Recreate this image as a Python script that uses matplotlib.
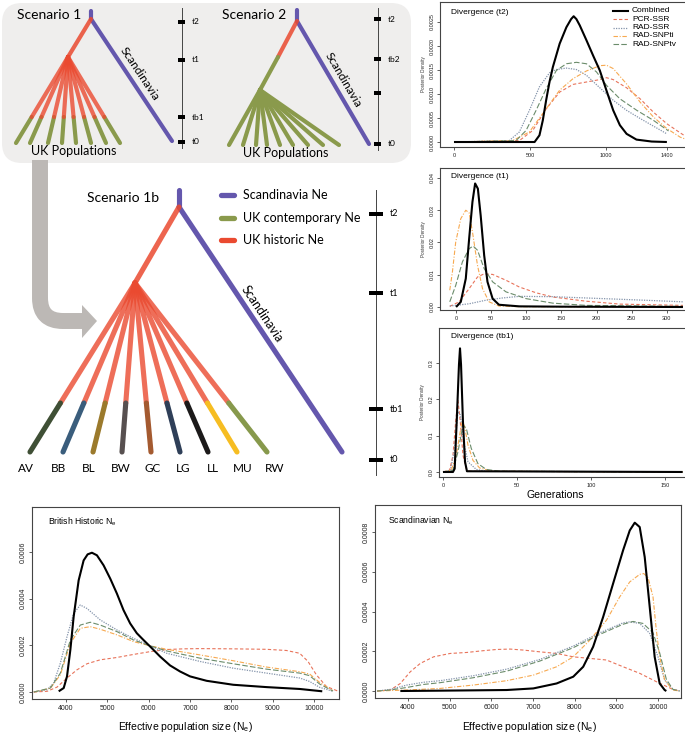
import numpy as np
import matplotlib.pyplot as plt
from matplotlib.patches import FancyBboxPatch, Polygon, PathPatch, Rectangle
from matplotlib.path import Path

W, H = 685, 736
fig = plt.figure(figsize=(W / 100, H / 100), dpi=100)

# ---------------- data ----------------
series_names = ['PCR-SSR', 'RAD-SSR', 'RAD-SNPti', 'RAD-SNPtv', 'Combined']

# Divergence (t2)
t2_comb_x = [0, 530, 562, 584, 606, 628, 650, 695, 739, 770, 787, 805, 827, 871, 915, 959, 1003, 1047, 1091, 1135, 1200, 1300, 1400]
t2_comb_y = [0, 0, 0.00014, 0.00045, 0.00087, 0.00125, 0.00156, 0.00205, 0.00239, 0.00256, 0.00262, 0.00256, 0.00243,
             0.00212, 0.00180, 0.00149, 0.00107, 0.00066, 0.00035, 0.00017, 0.00005, 0.00001, 0]
t2_pcr_x = [0, 430, 518, 606, 695, 783, 871, 959, 1003, 1047, 1135, 1224, 1312, 1400, 1488, 1532]
t2_pcr_y = [0, 0.00003, 0.00024, 0.00069, 0.00104, 0.00120, 0.00125, 0.00130, 0.00134, 0.00130, 0.00113, 0.00090,
            0.00062, 0.00038, 0.00019, 0.0001]
t2_radssr_x = [0, 364, 430, 496, 562, 628, 673, 739, 805, 871, 959, 1047, 1135, 1224, 1312, 1400]
t2_radssr_y = [0, 0.00003, 0.00021, 0.00066, 0.00115, 0.00144, 0.00151, 0.00154, 0.00151, 0.00139, 0.00113, 0.00087,
               0.00066, 0.00049, 0.00033, 0.00017]
t2_ti_x = [0, 386, 496, 606, 695, 783, 871, 959, 1003, 1047, 1135, 1224, 1312, 1400, 1488, 1532]
t2_ti_y = [0, 0.00003, 0.00021, 0.00069, 0.00108, 0.00132, 0.00148, 0.00159, 0.00160, 0.00153, 0.00121, 0.00083,
           0.00052, 0.00028, 0.0001, 0.00005]
t2_tv_x = [0, 408, 474, 540, 606, 673, 739, 805, 871, 937, 1003, 1091, 1202, 1312, 1411]
t2_tv_y = [0, 0.00003, 0.00024, 0.00066, 0.00111, 0.00149, 0.00163, 0.00166, 0.00163, 0.00146, 0.00118, 0.00090,
           0.00066, 0.00045, 0.00023]

# Divergence (t1)
t1_comb_x = [0, 6.7, 13.8, 18.6, 23.3, 27.1, 31, 35, 40, 44.7, 52, 61, 90, 150, 323]
t1_comb_y = [0, 0.0016, 0.0088, 0.0212, 0.0326, 0.0383, 0.0367, 0.0284, 0.016, 0.0078, 0.0026, 0.0007, 0.0002, 0.0001, 0]
t1_pcr_x = [-9, 4.3, 18.6, 30.5, 40, 52, 71, 90, 114, 137.6, 185, 233, 323]
t1_pcr_y = [0.0002, 0.0016, 0.0057, 0.0093, 0.0103, 0.0101, 0.0083, 0.0062, 0.0044, 0.0031, 0.0018, 0.0009, 0.0005]
t1_radssr_x = [-9, 18.6, 42.4, 66, 90, 137.6, 185, 233, 280, 323]
t1_radssr_y = [0.0003, 0.0010, 0.0021, 0.0028, 0.0033, 0.0032, 0.0028, 0.0024, 0.0020, 0.0016]
t1_ti_x = [-9, -5.2, -0.5, 6.7, 13.8, 18.6, 23.3, 30.5, 37.6, 47, 61, 90, 323]
t1_ti_y = [0.0052, 0.0109, 0.0202, 0.0274, 0.0300, 0.0292, 0.0233, 0.0129, 0.0057, 0.0016, 0.0003, 0.0001, 0]
t1_tv_x = [-9, -0.5, 9, 18.6, 24.3, 30.5, 40, 52, 71, 99.5, 137.6, 185, 323]
t1_tv_y = [0.0016, 0.0067, 0.0140, 0.0181, 0.0189, 0.0176, 0.0119, 0.0078, 0.0047, 0.0026, 0.0012, 0.0005, 0.0002]

# Divergence (tb1)
tb1_comb_x = [0, 6.75, 7.9, 9.45, 10.8, 11.5, 12.2, 13.5, 14.9, 16.2, 162]
tb1_comb_y = [0, 0, 0.009, 0.157, 0.295, 0.34, 0.295, 0.138, 0.028, 0.002, 0]
tb1_pcr_x = [0, 4.5, 6.75, 8.55, 10.1, 11.7, 13.5, 15.75, 18, 162]
tb1_pcr_y = [0, 0.005, 0.046, 0.138, 0.198, 0.138, 0.046, 0.009, 0.002, 0]
tb1_radssr_x = [0, 5, 7.9, 10.1, 11.7, 14, 16.9, 22.5, 29.25, 162]
tb1_radssr_y = [0, 0.004, 0.065, 0.166, 0.157, 0.083, 0.028, 0.007, 0.002, 0]
tb1_ti_x = [0, 5.6, 9, 11.25, 13, 14.6, 16.9, 20.25, 24.75, 33.75, 162]
tb1_ti_y = [0, 0.005, 0.046, 0.102, 0.140, 0.125, 0.074, 0.032, 0.011, 0.002, 0]
tb1_tv_x = [0, 6.75, 10.1, 13.5, 15.75, 19.1, 23.6, 29.25, 38.25, 162]
tb1_tv_y = [0, 0.005, 0.055, 0.129, 0.120, 0.065, 0.023, 0.007, 0.002, 0]

# British historic Ne
bh_comb_x = [3823, 3944, 4024, 4105, 4185, 4306, 4426, 4523, 4627, 4748, 4909, 5070, 5231, 5391, 5552, 5713, 5874,
             6075, 6276, 6517, 6759, 7000, 7402, 8046, 8850, 9654, 10200]
bh_comb_y = [0.000003, 0.000017, 0.000067, 0.000181, 0.000323, 0.000479, 0.000564, 0.00059, 0.000597, 0.000586,
             0.000543, 0.000486, 0.000422, 0.000351, 0.000294, 0.000252, 0.000223, 0.000188, 0.000152, 0.000114,
             0.000088, 0.000067, 0.000048, 0.000031, 0.000021, 0.000013, 0.000003]
bh_pcr_x = [3220, 3542, 3783, 4024, 4265, 4507, 4828, 5231, 5633, 6035, 6437, 6839, 7241, 8046, 8850, 9332, 9654,
            9855, 10056, 10297, 10619]
bh_pcr_y = [0, 0.000003, 0.000021, 0.00006, 0.000095, 0.000121, 0.000138, 0.000148, 0.000161, 0.000173, 0.000182,
            0.000185, 0.000186, 0.000185, 0.000183, 0.000178, 0.000166, 0.000131, 0.000074, 0.000024, 0.000001]
bh_radssr_x = [3220, 3542, 3702, 3863, 4024, 4185, 4346, 4507, 4828, 5231, 5633, 6035, 6437, 7241, 8046, 8850, 9654,
               9895, 10137, 10459]
bh_radssr_y = [0, 0.00001, 0.000038, 0.000124, 0.000237, 0.000337, 0.000373, 0.000358, 0.000309, 0.000266, 0.00023,
               0.000198, 0.000166, 0.000131, 0.000102, 0.000081, 0.00006, 0.000045, 0.00002, 0.000003]
bh_ti_x = [3220, 3622, 3863, 4105, 4346, 4587, 4828, 5231, 5633, 6035, 6437, 7241, 8046, 8850, 9654, 9895, 10137, 10459]
bh_ti_y = [0, 0.000016, 0.000074, 0.000209, 0.000273, 0.00028, 0.000269, 0.000245, 0.000216, 0.000198, 0.000183,
           0.000159, 0.000134, 0.000107, 0.000087, 0.000077, 0.000041, 0.000006]
bh_tv_x = [3220, 3622, 3863, 4105, 4346, 4587, 4828, 5231, 5633, 6035, 6437, 7241, 8046, 8850, 9654, 9895, 10137, 10459]
bh_tv_y = [0, 0.000017, 0.000081, 0.000223, 0.000287, 0.000299, 0.000287, 0.000259, 0.000223, 0.000198, 0.000176,
           0.000145, 0.000121, 0.000098, 0.000081, 0.00007, 0.000034, 0.000004]

# Scandinavian Ne
sc_comb_x = [3816, 4774, 5572, 6370, 7008, 7567, 7966, 8205, 8444, 8684, 8923, 9162, 9322, 9442, 9561, 9681, 9801,
             9920, 10040, 10160, 10200]
sc_comb_y = [0, 0.0000017, 0.0000033, 0.000005, 0.000013, 0.000038, 0.000072, 0.000122, 0.000223, 0.000373,
             0.000541, 0.000708, 0.000808, 0.000847, 0.000825, 0.000674, 0.000423, 0.000172, 0.000038, 0.000005, 0]
sc_pcr_x = [3258, 3577, 3816, 4056, 4295, 4614, 5013, 5412, 5811, 6130, 6450, 6769, 7168, 7567, 7966, 8365, 8763,
            9162, 9561, 9960, 10359, 10519]
sc_pcr_y = [0, 0.000005, 0.000038, 0.000097, 0.000139, 0.000172, 0.000189, 0.000194, 0.000203, 0.000209, 0.000211,
            0.000206, 0.000197, 0.000189, 0.000172, 0.000164, 0.000156, 0.000122, 0.000089, 0.000047, 0.000008, 0]
sc_radssr_x = [3258, 3577, 3976, 4375, 4774, 5572, 6370, 7168, 7966, 8604, 9162, 9322, 9561, 9801, 10000, 10160,
               10359, 10519]
sc_radssr_y = [0, 0.000008, 0.00003, 0.000044, 0.000052, 0.000077, 0.00011, 0.000159, 0.000226, 0.000293, 0.000343,
               0.000348, 0.00034, 0.00029, 0.000172, 0.000055, 0.000008, 0]
sc_ti_x = [3258, 3976, 4774, 5572, 6370, 7008, 7567, 7966, 8365, 8763, 9083, 9322, 9561, 9657, 9761, 9880, 9960,
           10040, 10160, 10359, 10519]
sc_ti_y = [0, 0.000005, 0.000013, 0.00003, 0.000052, 0.00008, 0.000122, 0.000172, 0.000256, 0.000356, 0.000474,
           0.000549, 0.000587, 0.000591, 0.000571, 0.000474, 0.000306, 0.000172, 0.000055, 0.000005, 0]
sc_tv_x = [3258, 3577, 3976, 4375, 4774, 5572, 6370, 7168, 7966, 8604, 9162, 9402, 9641, 9880, 10040, 10200, 10359,
           10519]
sc_tv_y = [0, 0.000005, 0.000018, 0.000033, 0.000042, 0.000067, 0.0001, 0.000151, 0.000218, 0.000285, 0.000336,
           0.00035, 0.00034, 0.000293, 0.000192, 0.000059, 0.000008, 0]

pop_labels = ['AV', 'BB', 'BL', 'BW', 'GC', 'LG', 'LL', 'MU', 'RW']
pop_colors = ['#3f4f35', '#3a5d7c', '#9b7a2c', '#575050', '#a45a30', '#2f3f58', '#1c1a1a', '#f6bd22', '#87994c']
legend_tree = ['Scandinavia Ne', 'UK contemporary Ne', 'UK historic Ne']

# ---------------- styles ----------------
PURPLE = '#6457ad'
RED = '#ea4a30'
GREEN = '#8a9a4c'
styles = {
    'Combined': dict(color='black', lw=1.5, ls='-'),
    'PCR-SSR': dict(color='#e8735a', lw=0.8, ls=(0, (3, 2))),
    'RAD-SSR': dict(color='#8494ab', lw=0.9, ls=(0, (1, 1))),
    'RAD-SNPti': dict(color='#f7a950', lw=0.8, ls=(0, (4, 1.5, 1, 1.5))),
    'RAD-SNPtv': dict(color='#6b8c6b', lw=0.8, ls=(0, (5, 2))),
}
PF = 'Liberation Sans'
TF = 'Lato'


def axpos(l, t, r, b):
    return [l / W, 1 - b / H, (r - l) / W, (b - t) / H]


def make_panel(rect, xlim, ylim, xticks, yticks, yfmt, data, tsize=4, ylabel=None):
    ax = fig.add_axes(axpos(*rect))
    for name in series_names:
        x, y = data[name]
        ax.plot(x, y, **styles[name], solid_capstyle='butt')
    ax.set_xlim(*xlim)
    ax.set_ylim(*ylim)
    ax.set_xticks(xticks)
    ax.set_xticklabels([str(v) for v in xticks], fontfamily=PF)
    ax.set_yticks(yticks)
    ax.set_yticklabels([yfmt.format(v) for v in yticks], fontfamily=PF, rotation=90, va='center')
    ax.tick_params(length=2.5, width=0.6, color='#444', labelsize=tsize, pad=1.5, labelcolor='#222')
    for s in ax.spines.values():
        s.set_color('#444')
        s.set_linewidth(0.8)
    if ylabel:
        ax.set_ylabel(ylabel, fontsize=3.3, fontfamily=PF, labelpad=2.5, color='#333')
    return ax


ax_t2 = make_panel((440, 2, 690, 147), (-92, 1552), (-0.000104, 0.0029167), [0, 500, 1000, 1400],
                   [0, 0.0005, 0.0010, 0.0015, 0.0020, 0.0025], '{:.4f}',
                   {'Combined': (t2_comb_x, t2_comb_y), 'PCR-SSR': (t2_pcr_x, t2_pcr_y),
                    'RAD-SSR': (t2_radssr_x, t2_radssr_y), 'RAD-SNPti': (t2_ti_x, t2_ti_y),
                    'RAD-SNPtv': (t2_tv_x, t2_tv_y)}, ylabel='Posterior Density')
ax_t1 = make_panel((440, 168, 690, 310), (-22.9, 333), (-0.00093, 0.0431), [0, 50, 100, 150, 200, 250, 300],
                   [0, 0.01, 0.02, 0.03, 0.04], '{:.2f}',
                   {'Combined': (t1_comb_x, t1_comb_y), 'PCR-SSR': (t1_pcr_x, t1_pcr_y),
                    'RAD-SSR': (t1_radssr_x, t1_radssr_y), 'RAD-SNPti': (t1_ti_x, t1_ti_y),
                    'RAD-SNPtv': (t1_tv_x, t1_tv_y)}, ylabel='Posterior Density')
ax_tb1 = make_panel((439, 328, 690, 477), (-2.7, 167), (-0.0138, 0.396), [0, 50, 100, 150],
                    [0, 0.1, 0.2, 0.3], '{:.1f}',
                    {'Combined': (tb1_comb_x, tb1_comb_y), 'PCR-SSR': (tb1_pcr_x, tb1_pcr_y),
                     'RAD-SSR': (tb1_radssr_x, tb1_radssr_y), 'RAD-SNPti': (tb1_ti_x, tb1_ti_y),
                     'RAD-SNPtv': (tb1_tv_x, tb1_tv_y)}, ylabel='Posterior Density')
ax_bh = make_panel((32, 507, 339, 699), (3177, 10605), (-0.00003, 0.000793),
                   [4000, 5000, 6000, 7000, 8000, 9000, 10000], [0, 0.0002, 0.0004, 0.0006], '{:.4f}',
                   {'Combined': (bh_comb_x, bh_comb_y), 'PCR-SSR': (bh_pcr_x, bh_pcr_y),
                    'RAD-SSR': (bh_radssr_x, bh_radssr_y), 'RAD-SNPti': (bh_ti_x, bh_ti_y),
                    'RAD-SNPtv': (bh_tv_x, bh_tv_y)}, tsize=5)
ax_sc = make_panel((375, 505, 681, 698), (3208, 10552), (-0.0000352, 0.000936),
                   [4000, 5000, 6000, 7000, 8000, 9000, 10000], [0, 0.0002, 0.0004, 0.0006, 0.0008], '{:.4f}',
                   {'Combined': (sc_comb_x, sc_comb_y), 'PCR-SSR': (sc_pcr_x, sc_pcr_y),
                    'RAD-SSR': (sc_radssr_x, sc_radssr_y), 'RAD-SNPti': (sc_ti_x, sc_ti_y),
                    'RAD-SNPtv': (sc_tv_x, sc_tv_y)}, tsize=5)

# ---------------- overlay (pixel coordinates) ----------------
ov = fig.add_axes([0, 0, 1, 1], zorder=10)
ov.set_xlim(0, W)
ov.set_ylim(H, 0)
ov.axis('off')
ov.patch.set_alpha(0)

# panel texts
ov.text(451, 13, 'Divergence (t2)', fontsize=6, family=PF, va='center')
ov.text(451, 176, 'Divergence (t1)', fontsize=6, family=PF, va='center')
ov.text(451, 337, 'Divergence (tb1)', fontsize=6, family=PF, va='center')
ov.text(555, 495, 'Generations', fontsize=7.6, family=PF, ha='center', va='center')
ov.text(48, 522, r'British Historic N$_\mathregular{e}$', fontsize=6.2, family=PF, va='center')
ov.text(388, 521, r'Scandinavian N$_\mathregular{e}$', fontsize=6.2, family=PF, va='center')
ov.text(185, 727, r'Effective population size (N$_\mathregular{e}$)', fontsize=7.5, family=PF, ha='center', va='center')
ov.text(529, 727, r'Effective population size (N$_\mathregular{e}$)', fontsize=7.5, family=PF, ha='center', va='center')

# t2 legend
leg_y = [11, 19.3, 27.6, 35.9, 44.2]
for name, yy in zip(series_names[::-1][:1] + series_names[:4], leg_y):
    st = styles[name]
    ov.plot([613, 628], [yy, yy], color=st['color'], lw=st['lw'], ls=st['ls'])
    ov.text(632, yy, name, fontsize=6, family=PF, va='center')

# ---- top scenario box ----
ov.add_patch(FancyBboxPatch((2, 3), 409, 160, boxstyle='round,pad=0,rounding_size=20',
                            fc='#efeeed', ec='none', zorder=0))

# gray arrow
arr_col = '#bcb8b5'
path = Path([(40, 160), (40, 298), (40, 321), (63, 321), (84, 321)],
            [Path.MOVETO, Path.LINETO, Path.CURVE3, Path.CURVE3, Path.LINETO])
ov.add_patch(PathPatch(path, fc='none', ec=arr_col, lw=11.5, capstyle='butt', joinstyle='round'))
ov.add_patch(Polygon([(82, 305), (97, 321), (82, 338)], closed=True, fc=arr_col, ec='none'))


def seg(p, q, c, lw, alpha=1.0, z=2):
    ov.plot([p[0], q[0]], [p[1], q[1]], color=c, lw=lw, solid_capstyle='round', alpha=alpha, zorder=z)


def timeline(x, y0, y1, ticks, labels, tw, th, fs, lx):
    ov.plot([x, x], [y0, y1], color='#444', lw=0.7, zorder=2)
    for ty, lab in zip(ticks, labels):
        ov.add_patch(Rectangle((x - tw / 2, ty - th / 2), tw, th, fc='black', ec='none', zorder=3))
        if lab:
            ov.text(lx, ty, lab, fontsize=fs, family=TF, va='center', zorder=3)


# Scenario 1
lw_s = 3.0
seg((91, 11), (91, 19), PURPLE, lw_s)
seg((91, 19), (172, 141), PURPLE, lw_s)
seg((91, 19), (68, 57), RED, lw_s, 0.85)
node = (68, 57)
for bx in [16, 30, 48, 62, 76, 91, 106, 120]:
    f = (117 - node[1]) / (143 - node[1])
    mx = node[0] + f * (bx - node[0])
    seg(node, (mx, 117), RED, lw_s, 0.8)
    seg((mx, 117), (bx, 143), GREEN, lw_s, 1.0, 1.9)
ov.text(17, 15, 'Scenario 1', fontsize=10, family=TF, va='center')
ov.text(74, 151, 'UK Populations', fontsize=9, family=TF, ha='center', va='center')
ov.text(140, 74, 'Scandinavia', fontsize=8.5, family=TF, ha='center', va='center', rotation=-56.4,
        rotation_mode='anchor')
timeline(182, 8, 148, [22, 60, 117, 142], ['t2', 't1', 'tb1', 't0'], 7, 4, 6, 192)

# Scenario 2
seg((297, 10), (297, 21), PURPLE, lw_s)
seg((297, 21), (369, 144), PURPLE, lw_s)
seg((297, 21), (278, 57), RED, lw_s, 0.85)
seg((278, 57), (260, 90), GREEN, lw_s)
for bx in [229, 243, 256, 267, 280, 293, 308, 323, 339]:
    seg((260, 90), (bx, 145), GREEN, lw_s)
ov.text(222, 15, 'Scenario 2', fontsize=10, family=TF, va='center')
ov.text(286, 153, 'UK Populations', fontsize=9, family=TF, ha='center', va='center')
ov.text(343, 80, 'Scandinavia', fontsize=8.5, family=TF, ha='center', va='center', rotation=-59.7,
        rotation_mode='anchor')
timeline(378, 8, 150, [19, 59, 93, 144], ['t2', 'tb2', '', 't0'], 7, 4, 6, 388)

# Scenario 1b
lw_b = 3.7
seg((179, 190), (179, 207), PURPLE, lw_b)
seg((179, 207), (342, 452), PURPLE, lw_b)
seg((179, 207), (135, 283), RED, lw_b, 0.85)
node_b = (135, 283)
bottoms = [30, 63, 93, 122, 151, 180, 208, 237, 267]
for bx, col in zip(bottoms, pop_colors):
    f = (403 - node_b[1]) / (452 - node_b[1])
    mx = node_b[0] + f * (bx - node_b[0])
    seg(node_b, (mx, 403), RED, lw_b, 0.8)
for bx, col in zip(bottoms, pop_colors):
    f = (403 - node_b[1]) / (452 - node_b[1])
    mx = node_b[0] + f * (bx - node_b[0])
    seg((mx, 403), (bx, 452), col, lw_b, 1.0, 2.1)
for lab, lx in zip(pop_labels, [26, 59, 89, 121, 153, 183, 213, 243, 275]):
    ov.text(lx, 469, lab, fontsize=8.5, family=TF, ha='center', va='center')
ov.text(87, 198, 'Scenario 1b', fontsize=10, family=TF, va='center')
ov.text(262, 314, 'Scandinavia', fontsize=9, family=TF, ha='center', va='center', rotation=-56.4,
        rotation_mode='anchor')
for lab, col, yy in zip(legend_tree, [PURPLE, GREEN, RED], [195, 218, 240]):
    seg((221, yy), (234, yy), col, 3.8)
    ov.text(243, yy, lab, fontsize=9, family=TF, va='center')
timeline(376, 190, 475, [214, 293, 409, 460], ['t2', 't1', 'tb1', 't0'], 14, 4.5, 6.5, 390)

fig.savefig('out.png', dpi=100)
